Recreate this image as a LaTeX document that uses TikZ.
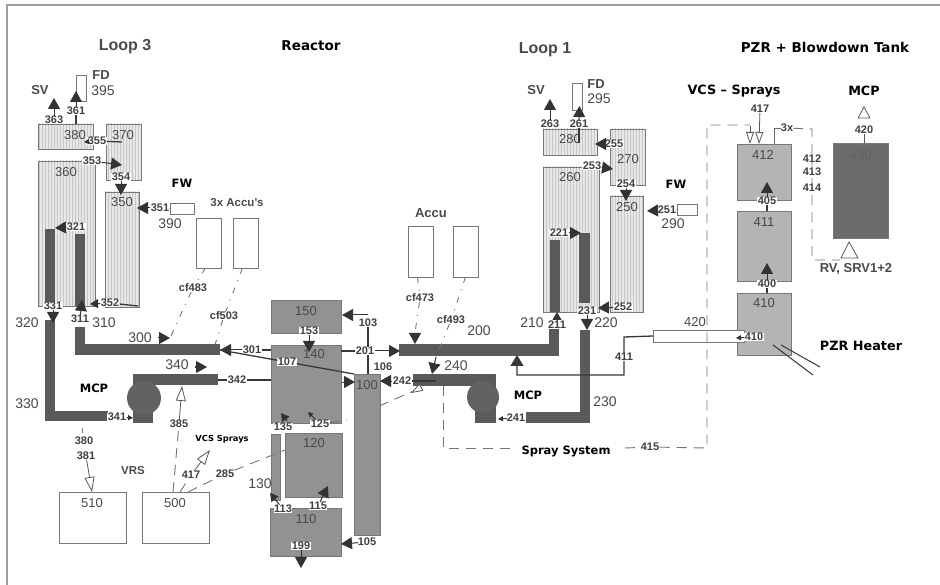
\documentclass[tikz,border=0pt]{standalone}
\usepackage{fontspec}
\setmainfont{Liberation Sans}
\newfontfamily\vfont{DejaVu Sans}
\usetikzlibrary{arrows.meta,patterns}
\definecolor{txt}{HTML}{4A4A4A}
\definecolor{pipe}{HTML}{5A5A5A}
\definecolor{rct}{HTML}{929292}
\definecolor{pzr}{HTML}{B4B4B4}
\definecolor{hatch}{HTML}{C6C6C6}
\definecolor{edge}{HTML}{777777}
\tikzset{
  every node/.style={inner sep=0pt,outer sep=0pt},
  boxbase/.style={anchor=north west,rectangle,draw=edge,line width=0.9pt},
  sgbox/.style={boxbase,preaction={fill=black!9},pattern=vertical lines,pattern color=hatch},
  rctbox/.style={boxbase,fill=rct},
  pzrbox/.style={boxbase,fill=pzr},
  darkbox/.style={boxbase,fill=black!58},
  openbox/.style={boxbase,fill=white},
  pipebox/.style={anchor=north west,rectangle,fill=pipe,draw=none},
  pumpc/.style={circle,fill=pipe!95!white,draw=none,minimum size=34pt},
  vol/.style={text=txt,font=\fontsize{13}{15}\selectfont},
  volb/.style={text=txt,font=\fontsize{14}{16}\selectfont},
  lab/.style={text=black!75,font=\fontsize{11}{13}\selectfont\bfseries,fill=white,inner sep=0.5pt},
  labn/.style={text=black!75,font=\fontsize{11}{13}\selectfont\bfseries},
  head/.style={text=black,font=\vfont\fontsize{11.5}{14}\selectfont\bfseries},
  headl/.style={text=black,font=\vfont\fontsize{13.5}{16}\selectfont\bfseries},
  headm/.style={text=black,font=\vfont\fontsize{12.8}{15}\selectfont\bfseries},
  heads/.style={text=black,font=\vfont\fontsize{8.3}{10}\selectfont\bfseries},
  old/.style={text=txt,font=\fontsize{16}{18}\selectfont\bfseries},
  olds/.style={text=txt,font=\fontsize{11.5}{14}\selectfont\bfseries},
  oldm/.style={text=txt,font=\fontsize{13}{15}\selectfont\bfseries},
  flow/.style={draw=black!80,line width=1pt,-{Triangle[length=11pt,width=12pt]}},
  flowm/.style={draw=black!80,line width=1pt,-{Triangle[length=8pt,width=9pt]}},
  flows/.style={draw=black!80,line width=1pt,-{Triangle[length=5pt,width=5pt]}},
  pline/.style={draw=black!78,line width=1.3pt},
  oarrow/.style={draw=black!65,line width=0.8pt,-{Triangle[open,length=15pt,width=10pt,fill=white]}},
  oarrown/.style={draw=black!65,line width=0.8pt,-{Triangle[open,length=12pt,width=8pt,fill=white]}},
  dashl/.style={draw=black!55,line width=0.9pt,dash pattern=on 10pt off 7pt},
  ddot/.style={draw=black!55,line width=0.9pt,dash pattern=on 6pt off 7pt on 1pt off 7pt},
}
\newcommand{\bx}[6]{\node[#6,minimum width=#4pt-#2pt,minimum height=#5pt-#3pt] (#1) at (#2,#3) {};}
\begin{document}
\begin{tikzpicture}[x=1pt,y=-1pt]
\useasboundingbox (0,0) rectangle (940,585);
\fill[white] (0,0) rectangle (940,585);
\draw[black!38,line width=2pt] (6.5,586) -- (6.5,5) -- (940,5);
% Loop 3
\bx{b380}{38}{124}{93}{149}{sgbox}
\bx{b370}{106}{124}{141}{180}{sgbox}
\bx{b360}{38}{161}{95}{306}{sgbox}
\bx{b350}{105}{192}{139}{307}{sgbox}
\bx{t331}{45}{229}{55}{306}{pipebox}
\bx{t311}{75}{234}{85}{306}{pipebox}
\bx{fd395}{76}{75}{86}{101}{openbox}
\bx{b390}{170}{203}{194}{214}{openbox}
\bx{acc1}{196}{218}{221}{268}{openbox}
\bx{acc2}{233}{218}{258}{268}{openbox}
\bx{p320}{45}{320}{55}{421}{pipebox}
\bx{p330}{45}{411}{108}{421}{pipebox}
\bx{p310}{75}{327}{85}{350}{pipebox}
\bx{p300}{75}{344}{220}{355}{pipebox}
\bx{p340}{133}{374}{218}{385}{pipebox}
\bx{p341}{133}{374}{153}{423}{pipebox}
\node[pumpc] (pump3) at (144,398) {};
\bx{b510}{59}{492}{126}{543}{openbox}
\bx{b500}{142}{492}{209}{543}{openbox}
% Reactor
\bx{b150}{271}{300}{341}{333}{rctbox}
\bx{b140}{271}{345}{341}{423}{rctbox}
\bx{b120}{285}{433}{342}{497}{rctbox}
\bx{b130}{271}{434}{280}{500}{rctbox}
\bx{b110}{270}{508}{341}{556}{rctbox}
\bx{b100}{354}{374}{380}{535}{rctbox}
% Loop 1
\bx{b280}{543}{129}{597}{155}{sgbox}
\bx{b270}{610}{129}{645}{185}{sgbox}
\bx{b260}{543}{167}{599}{312}{sgbox}
\bx{b250}{610}{196}{643}{312}{sgbox}
\bx{t211}{550}{240}{560}{312}{pipebox}
\bx{t231}{579}{233}{590}{303}{pipebox}
\bx{fd295}{572}{83}{582}{110}{openbox}
\bx{b290}{677}{204}{697}{215}{openbox}
\bx{acc3}{408}{226}{433}{277}{openbox}
\bx{acc4}{453}{226}{478}{277}{openbox}
\bx{p200}{399}{344}{559}{356}{pipebox}
\bx{p210}{549}{328}{559}{356}{pipebox}
\bx{p230v}{580}{330}{590}{423}{pipebox}
\bx{p230}{526}{412}{590}{423}{pipebox}
\bx{p240}{413}{374}{496}{386}{pipebox}
\bx{p241}{475}{374}{496}{423}{pipebox}
\node[pumpc,minimum size=32pt] (pump1) at (483,397) {};
% PZR
\bx{b412}{737}{144}{791}{200}{pzrbox}
\bx{b411}{737}{211}{791}{281}{pzrbox}
\bx{b410}{737}{293}{791}{355}{pzrbox}
\bx{b430}{833}{143}{888}{238}{darkbox}
\bx{s420}{653}{330}{744}{342}{openbox}
% volume numbers
\node[vol] at (66,172) {360};
\node[vol] at (75,135) {380};
\node[vol] at (123,135) {370};
\node[vol] at (122,202) {350};
\node[volb] at (103,91) {395};
\node[volb] at (170,224) {390};
\node[volb] at (27,323) {320};
\node[volb] at (104,323) {310};
\node[volb] at (140,338) {300};
\node[volb] at (177,365) {340};
\node[volb] at (27,404) {330};
\node[vol] at (92,503) {510};
\node[vol] at (175,503) {500};
\node[vol] at (306,311) {150};
\node[vol] at (314,354) {140};
\node[vol,text=black!70] at (367,385) {100};
\node[vol] at (314,443) {120};
\node[volb] at (260,484) {130};
\node[vol] at (306,519) {110};
\node[vol] at (570,139) {280};
\node[vol] at (628,159) {270};
\node[vol] at (570,177) {260};
\node[vol] at (627,207) {250};
\node[volb] at (599,99) {295};
\node[volb] at (673,224) {290};
\node[volb] at (532,323) {210};
\node[volb] at (606,323) {220};
\node[volb] at (479,331) {200};
\node[volb] at (456,366) {240};
\node[volb] at (605,402) {230};
\node[vol] at (695,322) {420};
\node[vol] at (763,155) {412};
\node[vol] at (764,222) {411};
\node[vol] at (764,303) {410};
\node[vol,text=black!62] at (861,155) {430};
% headings
\node[old] at (125,47) {Loop 3};
\node[old] at (545,50) {Loop 1};
\node[headl] at (311,46) {Reactor};
\node[headl] at (825,47) {PZR + Blowdown Tank};
\node[headm] at (734,91) {VCS – Sprays};
\node[headm] at (864,91) {MCP};
\node[head] at (94,388) {MCP};
\node[head] at (528,395) {MCP};
\node[head] at (182,183) {FW};
\node[head] at (676,184) {FW};
\node[heads] at (222,439) {VCS Sprays};
\node[head] at (566,451) {Spray System};
\node[headm] at (861,346) {PZR Heater};
\node[oldm] at (40,90) {SV};
\node[oldm] at (536,90) {SV};
\node[oldm] at (101,75) {FD};
\node[oldm] at (596,84) {FD};
\node[olds] at (237,203) {3x Accu's};
\node[oldm] at (431,213) {Accu};
\node[olds] at (133,471) {VRS};
\node[oldm] (lrv) at (856,269) {RV, SRV1+2};
% Loop-3 connector labels
\node[lab] (l363) at (54,120) {363};
\node[lab] (l361) at (76,111) {361};
\node[lab] (l355) at (97,141) {355};
\node[lab] (l353) at (92,161) {353};
\node[lab] (l354) at (121,177) {354};
\node[lab] (l351) at (160,208) {351};
\node[lab] (l321) at (76,227) {321};
\node[lab] (l331) at (53,306) {331};
\node[lab] (l311) at (80,319) {311};
\node[lab] (l352) at (110,303) {352};
\node[lab] (l341) at (117,417) {341};
\node[labn] (l385) at (179,424) {385};
\node[labn] (l380) at (84,441) {380};
\node[labn] (l381) at (86,456) {381};
\node[labn] (l417a) at (191,475) {417};
\node[labn] (l285) at (225,474) {285};
\node[labn] (lcf483) at (193,288) {cf483};
\node[labn] (lcf503) at (224,316) {cf503};
\node[labn] (lcf473) at (420,298) {cf473};
\node[labn] (lcf493) at (451,320) {cf493};
% Reactor labels
\node[lab] (l301) at (252,350) {301};
\node[lab] (l342) at (237,380) {342};
\node[lab] (l153) at (309,331) {153};
\node[labn] (l103) at (368,323) {103};
\node[lab] (l201) at (365,351) {201};
\node[lab] (l107) at (287,362) {107};
\node[labn] (l106) at (383,367) {106};
\node[lab] (l242) at (402,381) {242};
\node[lab] (l135) at (283,427) {135};
\node[lab] (l125) at (320,424) {125};
\node[lab] (l113) at (283,509) {113};
\node[lab] (l115) at (318,506) {115};
\node[lab] (l199) at (301,546) {199};
\node[labn] (l105) at (367,542) {105};
% Loop-1 labels
\node[lab] (l263) at (550,124) {263};
\node[lab] (l261) at (579,124) {261};
\node[lab] (l255) at (614,144) {255};
\node[lab] (l253) at (592,166) {253};
\node[lab] (l254) at (626,184) {254};
\node[lab] (l251) at (667,210) {251};
\node[lab] (l221) at (559,233) {221};
\node[lab] (l231) at (587,311) {231};
\node[lab] (l252) at (623,307) {252};
\node[lab] (l211) at (557,325) {211};
\node[labn] (l241) at (516,418) {241};
\node[lab] (l415) at (650,447) {415};
% PZR labels
\node[labn] (l417) at (760,109) {417};
\node[lab] (l405) at (767,201) {405};
\node[lab] (l400) at (767,284) {400};
\node[lab] (l410) at (754,337) {410};
\node[labn] (l420) at (864,130) {420};
\node[lab] at (812,159) {412};
\node[lab] at (812,172) {413};
\node[lab] at (812,188) {414};
\node[labn] (l3x) at (787,128) {3x};
% arrow targets and connectors: loop 3
\coordinate (sv3) at (54,98);
\draw[flow] (l363) -- (sv3);
\coordinate (fd3) at (76,91);
\draw[flow] (l361) -- (fd3);
\draw[pline] (l361) -- (b380.north -| l361);
\coordinate (c355) at (84,142);
\draw[flows] (l355) -- (c355);
\coordinate (c355e) at (122,142);
\draw[pline] (l355) -- (c355e);
\coordinate (c353) at (122,165);
\draw[flow] (l353) -- (c353);
\coordinate (c354) at (121,195);
\draw[flow] (l354) -- (c354);
\coordinate (c351) at (137,208);
\draw[flow] (l351) -- (c351);
\draw[pline] (l351) -- (b390.west);
\coordinate (c321) at (55,228);
\draw[flow] (l321) -- (c321);
\coordinate (c331) at (53,323);
\draw[flow] (l331) -- (c331);
\coordinate (c311) at (82,300);
\draw[flow] (l311) -- (c311);
\coordinate (c352) at (90,304);
\draw[flowm] (l352) -- (c352);
\coordinate (c352e) at (138,306);
\draw[pline] (l352) -- (c352e);
\coordinate (c300) at (170,338);
\coordinate (c300s) at (158,338);
\draw[flow] (c300s) -- (c300);
\coordinate (c340) at (207,367);
\coordinate (c340s) at (195,367);
\draw[flow] (c340s) -- (c340);
\coordinate (c341) at (133,418);
\draw[flows] (l341) -- (c341);
% dash-dot
\draw[ddot] (acc1.south) ++(-3,0) -- (lcf483);
\draw[ddot] (lcf483) -- (c300);
\draw[ddot] (acc2.south) ++(-3,0) -- (lcf503);
\coordinate (c503e) at (215,345);
\draw[ddot] (lcf503) -- (c503e);
\draw[ddot] (acc3.south) ++(-3,0) -- (lcf473);
\draw[ddot] (acc4.south) -- (lcf493);
% reactor connectors
\coordinate (c301a) at (220,350);
\draw[flow] (l301) -- (c301a);
\draw[pline] (l301) -- (b140.west |- l301);
\draw[pline] (l342) -- (p340.east |- l342);
\draw[pline] (l342) -- (b140.west |- l342);
\draw[pline] (c301a) -- (l107);
\draw[pline] (l107) -- (b100.north west);
\coordinate (c153) at (309,352);
\draw[flow] (l153) -- (c153);
\coordinate (c103) at (342,315);
\coordinate (c103s) at (368,315);
\draw[flow] (c103s) -- (c103);
\draw[pline] (l103) -- (l201.north -| l103);
\draw[pline] (l201.south -| l103) -- (b100.north -| l103);
\draw[pline] (l201) -- (b140.east |- l201);
\coordinate (c201) at (400,351);
\draw[flow] (l201) -- (c201);
\coordinate (c106) at (355,382);
\coordinate (c106s) at (342,382);
\draw[flow] (c106s) -- (c106);
\coordinate (c242) at (380,381);
\draw[flow] (l242) -- (c242);
\coordinate (c242e) at (436,381);
\draw[pline] (l242) -- (c242e);
\coordinate (c135) at (281,413);
\draw[flowm] (l135) ++(4,-6) -- (c135);
\coordinate (c125) at (308,412);
\draw[flows] (l125) -- (c125);
\coordinate (c115) at (328,486);
\draw[flow] (l115) -- (c115);
\coordinate (c113) at (270,493);
\draw[flowm] (l113) -- (c113);
\coordinate (c199) at (301,568);
\draw[flow] (l199) -- (c199);
\coordinate (c105) at (341,544);
\draw[flow] (l105) -- (c105);
\coordinate (c473s) at (415,333);
\coordinate (c200a) at (415,344);
\draw[ddot] (lcf473) -- (c473s);
\draw[flow] (c473s) -- (c200a);
\coordinate (c240a) at (432,374);
\coordinate (c240s) at (436,357);
\draw[ddot] (lcf493) -- (c240s);
\draw[flow] (c240s) -- (c240a);
% loop 1 connectors
\coordinate (sv1) at (550,99);
\draw[flow] (l263) -- (sv1);
\coordinate (fd1) at (579.5,106);
\draw[flow] (l261) -- (fd1);
\coordinate (c261e) at (579,143);
\draw[pline] (l261) -- (c261e);
\coordinate (c255) at (595,144);
\draw[flow] (l255) -- (c255);
\coordinate (c253) at (613,169);
\draw[flow] (l253) -- (c253);
\coordinate (c254) at (626,201);
\draw[flow] (l254) -- (c254);
\coordinate (c251) at (647,211);
\draw[flow] (l251) -- (c251);
\draw[pline] (l251) -- (b290.west);
\coordinate (c221) at (581,233);
\draw[flow] (l221) -- (c221);
\coordinate (c231) at (587,330);
\draw[flow] (l231) -- (c231);
\coordinate (c252) at (598,308);
\draw[flow] (l252) -- (c252);
\coordinate (c211) at (557,312);
\draw[flowm] (l211) -- (c211);
\coordinate (c241) at (498,419);
\draw[flows] (l241) -- (c241);
\coordinate (c411) at (517,355);
\draw[pline,-{Triangle[length=11pt,width=13pt]}] (s420.west) -- (624,337) -- (624,375) -- (517,375) -- (c411);
\node[lab] (l411) at (624,357) {411};
% dashes
\coordinate (d1) at (443,386);
\coordinate (d2) at (443,448);
\coordinate (d3) at (512,448);
\coordinate (d4) at (625,448);
\draw[dashl] (d1) -- (d2) -- (d3);
\draw[dashl] (d4) -- (l415);
\draw[dashl] (l415) -- (707,448) -- (707,125) -- (750,125);
\coordinate (s500a) at (173,492);
\coordinate (s500b) at (180,492);
\coordinate (s500c) at (188,492);
\draw[dashl] (s500a) -- (l385);
\draw[dashl] (s500b) -- (l417a);
\coordinate (vcs3) at (210,450);
\draw[oarrow] (l417a) -- (vcs3);
\draw[dashl] (s500c) -- (l285);
\coordinate (s130) at (285,450);
\draw[dashl] (l285) -- (s130);
\coordinate (s125) at (347,420);
\draw[dashl] (l125) -- (s125);
\coordinate (s100) at (379,406);
\coordinate (s240) at (423,387);
\draw[dashl] (s100) -- (s240);
\coordinate (o240) at (411,393);
\coordinate (o240s) at (420,388);
\draw[oarrown] (o240s) -- (o240);
\coordinate (o385) at (182,386);
\draw[oarrow] (l385) -- (o385);
\coordinate (o381) at (92,492);
\draw[oarrow] (l381) -- (o381);
\coordinate (t380a) at (82,428);
\coordinate (t380b) at (82,433);
\draw[black!55,line width=0.9pt] (t380a) -- (t380b);
% PZR connectors
\coordinate (o417a) at (750,144);
\coordinate (o417as) at (750,126);
\coordinate (o417b) at (759,144);
\draw[oarrown] (o417as) -- (o417a);
\draw[oarrown] (l417) -- (o417b);
\draw[black!60,line width=0.8pt] (774,144) -- (774,128) -- (l3x);
\draw[dashl] (l3x) -- (812,129) -- (812,260) -- (840,260);
\coordinate (c405) at (767,182);
\draw[flow] (l405) -- (c405);
\draw[pline] (l405) -- (b411.north -| l405);
\coordinate (c400) at (767,263);
\draw[flow] (l400) -- (c400);
\draw[pline] (l400) -- (b410.north -| l400);
\coordinate (c410) at (736,338);
\draw[flows] (l410) -- (c410);
\draw[black!65,line width=0.8pt] (l420) -- (b430.north -| l420);
\draw[black!65,line width=0.8pt,fill=white] (864,107) -- (858,118) -- (870,118) -- cycle;
\draw[black!65,line width=0.8pt,fill=white] (849,242) -- (841,258) -- (858,258) -- cycle;
\draw[pline,line width=1pt] (773,345) -- (813,375);
\draw[pline,line width=1pt] (781,345) -- (820,367);
\end{tikzpicture}
\end{document}
